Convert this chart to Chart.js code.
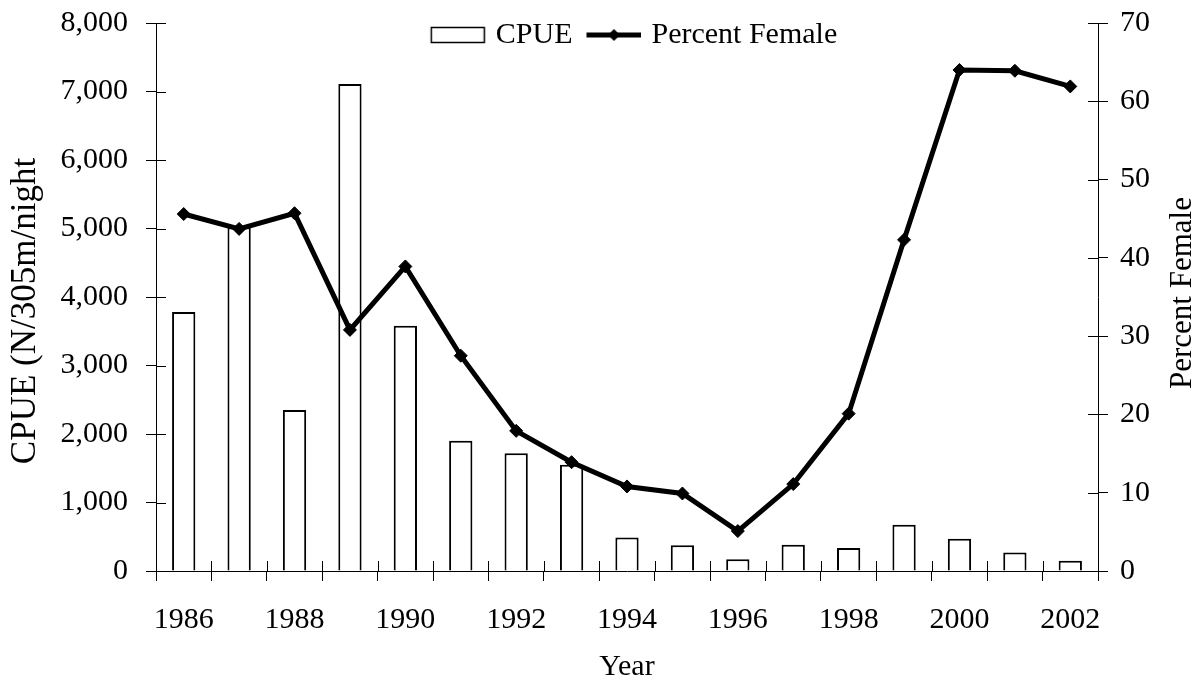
<!DOCTYPE html>
<html>
<head>
<meta charset="utf-8">
<script src="https://cdn.jsdelivr.net/npm/chart.js@4.4.1/dist/chart.umd.min.js"></script>
<style>
  html, body { margin: 0; padding: 0; background: #fff; }
  #wrap { width: 1202px; height: 681px; position: relative; }
</style>
</head>
<body>
<div id="wrap"><canvas id="c"></canvas></div>
<script>
const years = ['1986','1987','1988','1989','1990','1991','1992','1993','1994','1995','1996','1997','1998','1999','2000','2001','2002'];
const cpue = [3780, 5020, 2350, 7110, 3580, 1900, 1720, 1550, 490, 375, 170, 385, 335, 675, 470, 270, 150];
const pctFemale = [45.6, 43.7, 45.7, 30.8, 38.9, 27.5, 17.9, 13.9, 10.8, 9.9, 5.1, 11.1, 20.1, 42.3, 64.0, 63.9, 61.9];
const cpueTicks = [0, 1000, 2000, 3000, 4000, 5000, 6000, 7000, 8000];
const pctTicks = [0, 10, 20, 30, 40, 50, 60, 70];
const xLabelEvery = 2;

const FONT = '"Liberation Serif", "Times New Roman", serif';
Chart.defaults.font.family = FONT;
Chart.defaults.font.size = 30;
Chart.defaults.color = '#000';

function makeIcon(kind) {
  const cv = document.createElement('canvas');
  cv.width = 74; cv.height = 20;
  const g = cv.getContext('2d');
  g.strokeStyle = '#000';
  g.fillStyle = '#000';
  if (kind === 'bar') {
    g.lineWidth = 1.5;
    g.fillStyle = '#fff';
    g.fillRect(19.5, 2.5, 53, 15);
    g.strokeRect(19.5, 2.5, 53, 15);
  } else {
    g.lineWidth = 5;
    g.beginPath(); g.moveTo(19, 10); g.lineTo(74, 10); g.stroke();
    g.beginPath();
    g.moveTo(46.5, 4); g.lineTo(52.5, 10); g.lineTo(46.5, 16); g.lineTo(40.5, 10); g.closePath();
    g.fill();
  }
  return cv;
}
const barIcon = makeIcon('bar');
const lineIcon = makeIcon('line');

const extras = {
  id: 'extras',
  beforeDraw(chart) {
    // let the legend draw in the band at the top of the plot (it takes no layout height)
    const lg = chart.legend;
    if (lg) {
      lg.top = 20;
      lg.height = 40;
      lg.bottom = 60;
    }
  },
  afterDraw(chart) {
    const {ctx, chartArea, scales} = chart;
    const x = scales.x, y = scales.y, y1 = scales.y1;
    ctx.save();
    ctx.strokeStyle = '#000';
    ctx.lineWidth = 1;
    ctx.beginPath();
    for (let i = 0; i <= years.length; i++) {
      const px = Math.round(x.getPixelForValue(i - 0.5)) + 0.5;
      ctx.moveTo(px, chartArea.bottom);
      ctx.lineTo(px, chartArea.bottom - 10);
    }
    y.ticks.forEach(t => {
      const py = Math.round(y.getPixelForValue(t.value)) + 0.5;
      ctx.moveTo(chartArea.left, py);
      ctx.lineTo(chartArea.left + 10, py);
    });
    y1.ticks.forEach(t => {
      const py = Math.round(y1.getPixelForValue(t.value)) + 0.5;
      ctx.moveTo(chartArea.right, py);
      ctx.lineTo(chartArea.right - 10, py);
    });
    ctx.stroke();
    ctx.fillStyle = '#000';
    ctx.textAlign = 'center';
    ctx.textBaseline = 'middle';
    // left axis title
    ctx.save();
    ctx.translate(26, 311);
    ctx.rotate(-Math.PI / 2);
    ctx.font = '35px ' + FONT;
    ctx.fillText('CPUE (N/305m/night', 0, 0);
    ctx.restore();
    // right axis title, reading bottom to top
    ctx.save();
    ctx.translate(1183, 293);
    ctx.rotate(-Math.PI / 2);
    ctx.font = '31px ' + FONT;
    ctx.fillText('Percent Female', 0, 0);
    ctx.restore();
    ctx.restore();
  }
};

function fixVertical(width) {
  return s => {
    s.width = width;
    s.paddingTop = 0;
    s.paddingBottom = 0;
  };
}

new Chart(document.getElementById('c'), {
  type: 'bar',
  data: {
    labels: years,
    datasets: [
      {
        type: 'line',
        label: 'Percent Female',
        data: pctFemale,
        yAxisID: 'y1',
        borderColor: '#000',
        borderWidth: 5,
        pointStyle: 'rectRot',
        pointRadius: 6.5,
        pointBackgroundColor: '#000',
        pointBorderColor: '#000',
        pointBorderWidth: 1,
        tension: 0,
        order: 0
      },
      {
        type: 'bar',
        label: 'CPUE',
        data: cpue,
        yAxisID: 'y',
        backgroundColor: '#fff',
        borderColor: '#000',
        borderWidth: 2,
        barPercentage: 0.42,
        categoryPercentage: 1.0,
        order: 1
      }
    ]
  },
  options: {
    responsive: true,
    maintainAspectRatio: false,
    devicePixelRatio: 1,
    animation: false,
    layout: { padding: { top: 20, left: 0, right: 0, bottom: 0 } },
    plugins: {
      tooltip: { enabled: false },
      legend: {
        display: true,
        position: 'top',
        fullSize: false,
        maxHeight: 3,
        labels: {
          usePointStyle: true,
          pointStyleWidth: 64,
          padding: 0,
          font: { size: 30, family: FONT },
          color: '#000',
          generateLabels: () => [
            { text: 'CPUE', pointStyle: barIcon, datasetIndex: 1, fillStyle: '#fff', strokeStyle: '#000', lineWidth: 0, fontColor: '#000', hidden: false },
            { text: 'Percent Female', pointStyle: lineIcon, datasetIndex: 0, fillStyle: '#000', strokeStyle: '#000', lineWidth: 0, fontColor: '#000', hidden: false }
          ]
        }
      }
    },
    scales: {
      x: {
        offset: true,
        grid: { display: true, offset: true, drawOnChartArea: false, drawTicks: true, tickLength: 10, color: '#000', lineWidth: 1 },
        border: { display: true, color: '#000', width: 1 },
        ticks: {
          autoSkip: false,
          maxRotation: 0,
          padding: 21,
          font: { size: 30, family: FONT },
          color: '#000',
          callback: (v, i) => (i % xLabelEvery === 0 ? years[i] : '')
        },
        title: { display: true, text: 'Year', font: { size: 30, family: FONT }, color: '#000', padding: { top: 0, bottom: -4 } },
        afterFit: s => { s.height = 110; }
      },
      y: {
        position: 'left',
        min: 0, max: 8000,
        afterBuildTicks: s => { s.ticks = cpueTicks.map(v => ({ value: v })); },
        grid: { display: true, drawOnChartArea: false, drawTicks: true, tickLength: 10, color: '#000', lineWidth: 1 },
        border: { display: true, color: '#000', width: 1 },
        ticks: { padding: 18, font: { size: 30, family: FONT }, color: '#000' },
        afterFit: fixVertical(156)
      },
      y1: {
        position: 'right',
        min: 0, max: 70,
        afterBuildTicks: s => { s.ticks = pctTicks.map(v => ({ value: v })); },
        grid: { display: true, drawOnChartArea: false, drawTicks: true, tickLength: 10, color: '#000', lineWidth: 1 },
        border: { display: true, color: '#000', width: 1 },
        ticks: { padding: 12, font: { size: 30, family: FONT }, color: '#000' },
        afterFit: fixVertical(104)
      }
    }
  },
  plugins: [extras]
});
</script>
</body>
</html>
